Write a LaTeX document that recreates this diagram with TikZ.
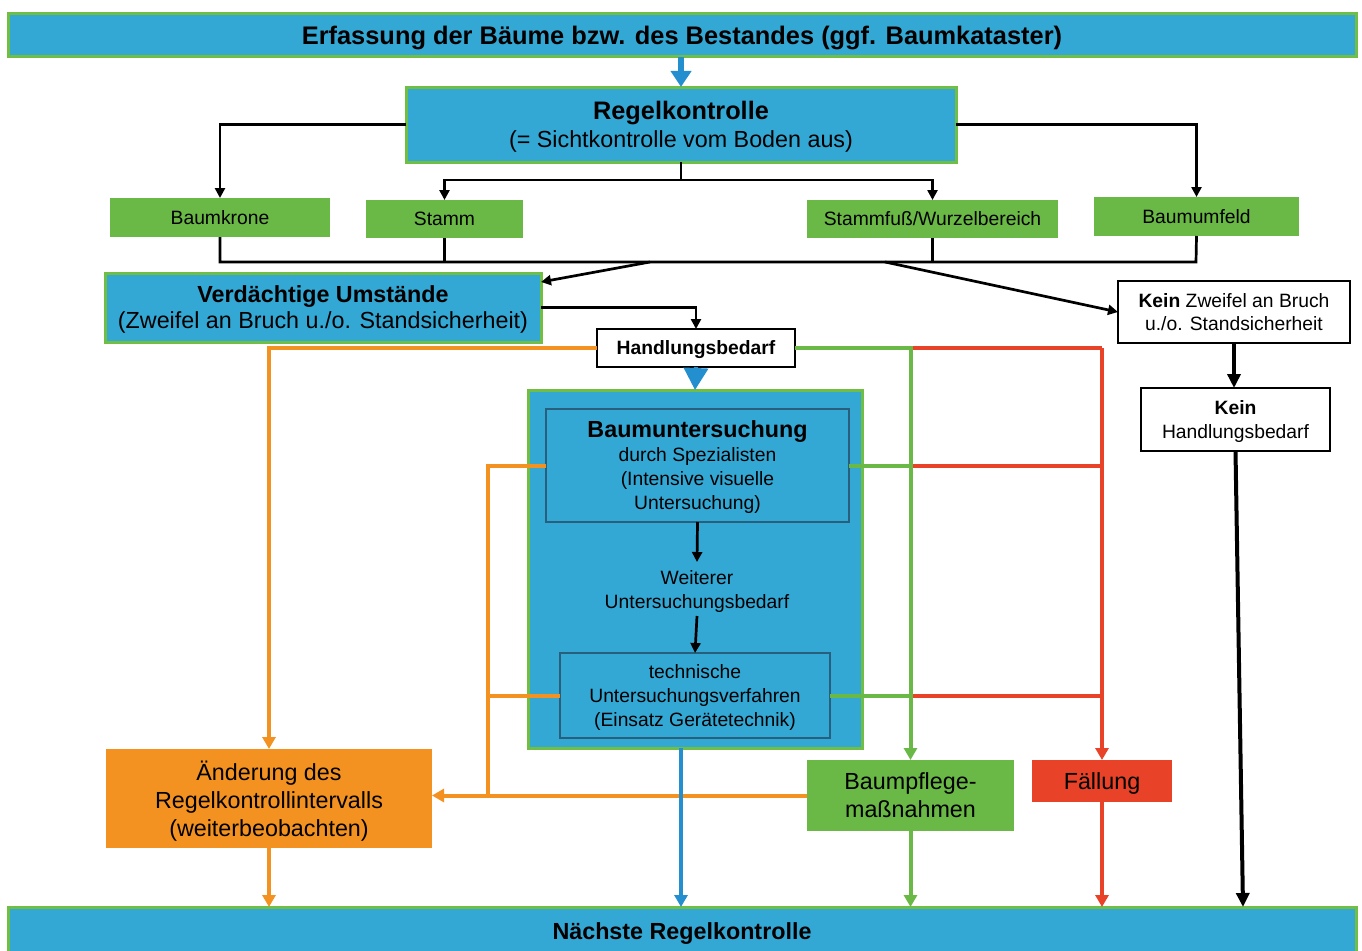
\documentclass[tikz,border=0pt]{standalone}
\usepackage{fontspec}
\setmainfont{Liberation Sans}
\usetikzlibrary{arrows.meta,calc}
\definecolor{boxblue}{RGB}{52,168,212}
\definecolor{edgegreen}{RGB}{112,190,68}
\definecolor{boxgreen}{RGB}{106,184,69}
\definecolor{lineblue}{RGB}{36,143,207}
\definecolor{boxorange}{RGB}{244,146,33}
\definecolor{boxred}{RGB}{232,67,40}
\definecolor{inneredge}{RGB}{40,95,125}
\newcommand{\fsbig}{\fontsize{23.3}{26}\selectfont}
\newcommand{\fsbigwide}{\fontsize{23.3}{28}\selectfont}
\newcommand{\fssmall}{\fontsize{19.3}{23.5}\selectfont}
\newcommand{\fssmallwide}{\fontsize{19.3}{24}\selectfont}
\tikzset{
  x=1pt, y=-1pt,
  base/.style={inner sep=0pt, outer sep=0pt, align=center, text=black, text depth=0pt},
  bluebox/.style={base, fill=boxblue, draw=edgegreen, line width=3pt},
  greenbox/.style={base, fill=boxgreen, font=\fssmall},
  whitebox/.style={base, fill=white, draw=black, line width=1.6pt, font=\fssmall},
  innerbox/.style={base, draw=inneredge, line width=1.1pt},
  conn/.style={line width=2.7pt, black},
  arr/.style={conn, -{Triangle[width=10pt,length=10pt]}},
  thickarr/.style={line width=4pt, black, -{Triangle[width=13pt,length=14pt]}},
  oline/.style={line width=4pt, boxorange},
  gline/.style={line width=4pt, boxgreen},
  rline/.style={line width=4pt, boxred},
  colarr/.style={-{Triangle[width=13pt,length=12pt]}},
  blueline/.style={line width=3.8pt, lineblue},
}
\begin{document}
\begin{tikzpicture}
\useasboundingbox (0,0) rectangle (1362,950);

% bars at top and bottom
\node[bluebox, minimum width=1348, minimum height=43, font=\fontsize{25.4}{28}\selectfont\bfseries]
  (top) at (682,35.5) {Erfassung der Bäume bzw. des Bestandes (ggf. Baumkataster)};
\node[bluebox, minimum width=1348, minimum height=48, font=\fsbig\bfseries]
  (bottom) at (682,931) {Nächste Regelkontrolle};

% regular inspection
\node[bluebox, minimum width=550, minimum height=75]
  (regel) at (681,124.5) {{\fontsize{25.3}{29}\selectfont\bfseries Regelkontrolle}\\[5pt]{\fsbig (= Sichtkontrolle vom Boden aus)}};

% parts of the tree
\node[greenbox, minimum width=220, minimum height=39] (krone) at (220,217.5) {Baumkrone};
\node[greenbox, minimum width=157, minimum height=38] (stamm) at (444.5,219) {Stamm};
\node[greenbox, minimum width=251, minimum height=38] (fuss) at (932.5,219) {Stammfuß/Wurzelbereich};
\node[greenbox, minimum width=205, minimum height=39] (umfeld) at (1196.5,216.5) {Baumumfeld};

% outcomes of the inspection
\node[bluebox, minimum width=436, minimum height=69, font=\fsbig]
  (verd) at (323,307.5) {\textbf{Verdächtige Umstände}\\(Zweifel an Bruch u./o. Standsicherheit)};
\node[whitebox, minimum width=198, minimum height=38, font=\fssmall\bfseries]
  (handl) at (696,348) {Handlungsbedarf};
\node[whitebox, minimum width=232, minimum height=62]
  (kein) at (1234,312) {\textbf{Kein} Zweifel an Bruch\\u./o. Standsicherheit};
\node[whitebox, minimum width=189, minimum height=63]
  (keinh) at (1235.5,419.5) {\textbf{Kein}\\Handlungsbedarf};

% detailed examination
\node[bluebox, minimum width=334, minimum height=358] (big) at (695,569) {};
\node[innerbox, minimum width=303, minimum height=113, font=\fssmallwide]
  (unt) at (697.5,465.5) {{\fontsize{23.3}{24}\selectfont\bfseries Baumuntersuchung}\\durch Spezialisten\\(Intensive visuelle\\Untersuchung)};
\node[base, font=\fssmallwide, inner ysep=8pt]
  (weiter) at (697,589) {Weiterer\\Untersuchungsbedarf};
\node[innerbox, minimum width=270, minimum height=85, font=\fssmallwide]
  (tech) at (695,695.5) {technische\\Untersuchungsverfahren\\(Einsatz Gerätetechnik)};

% measures
\node[base, fill=boxorange, minimum width=326, minimum height=99, font=\fsbigwide]
  (aend) at (269,798.5) {Änderung des\\Regelkontrollintervalls\\(weiterbeobachten)};
\node[base, fill=boxgreen, minimum width=207, minimum height=71, font=\fsbigwide]
  (pflege) at (910.5,795.5) {Baumpflege-\\maßnahmen};
\node[base, fill=boxred, minimum width=140, minimum height=42, font=\fsbig]
  (fall) at (1102,781) {Fällung};

% helper points
\coordinate (split) at (681,180);
\coordinate (busL) at (220,262);
\coordinate (busR) at (1196,262);
\coordinate (busA) at (650,262);
\coordinate (busB) at (885,262);
\coordinate (keinend) at (1243,907);

% top bar to regular inspection
\draw[line width=6pt, lineblue, -{Triangle[width=20pt,length=16pt]}] (regel.north |- top.south) -- (regel.north);

% regular inspection to the tree parts
\draw[arr] (regel.west) -| (krone.north);
\draw[arr] (regel.east) -| (umfeld.north);
\draw[conn] (regel.south) -- (split);
\draw[arr] (split) -| (stamm.north);
\draw[arr] (split) -| (fuss.north);

% collecting line below the tree parts
\draw[conn, line join=miter] (krone.south) -- (busL) -- (busR) -- (umfeld.south);
\draw[conn] (stamm.south) -- (stamm.south |- busL);
\draw[conn] (fuss.south) -- (fuss.south |- busL);
\draw[arr] (busA) -- ($(verd.north east)+(0,9)$);
\draw[arr] (busB) -- (kein.west);

% suspicious circumstances
\draw[arr] (verd.east) -| (handl.north);
\draw[line width=4pt, lineblue, -{Triangle[width=24pt,length=22pt]}] (handl.south) -- (big.north);

% no doubt branch
\draw[thickarr] (kein.south) -- (kein.south |- keinh.north);
\draw[thickarr] (keinh.south) -- (keinend);

% inside the examination box
\draw[arr] (unt.south) -- (weiter.north);
\draw[arr] (weiter.south) -- (tech.north);

% felling branch
\draw[rline] (pflege.north |- handl.east) -- (fall.north |- handl.east);
\draw[rline, colarr] (fall.north |- handl.east) -- (fall.north);
\draw[rline] (pflege.north |- unt.east) -- (fall.north |- unt.east);
\draw[rline] (pflege.north |- tech.east) -- (fall.north |- tech.east);
\draw[rline, colarr] (fall.south) -- (fall.south |- bottom.north);

% tree care branch
\draw[gline, colarr] (handl.east) -| (pflege.north);
\draw[gline] (unt.east) -- (pflege.north |- unt.east);
\draw[gline] (tech.east) -- (pflege.north |- tech.east);
\draw[gline, colarr] (pflege.south) -- (pflege.south |- bottom.north);

% observation branch
\draw[oline, colarr] (handl.west) -| (aend.north);
\draw[oline] (unt.west) -- (488,465.5) -- (488,795.5);
\draw[oline] (tech.west) -- (488,695.5);
\draw[oline, colarr] (pflege.west) -- (pflege.west -| aend.east);
\draw[oline, colarr] (aend.south) -- (aend.south |- bottom.north);

% examination result to next inspection
\draw[blueline, colarr] ($(big.south)+(-14,0)$) -- ($(big.south |- bottom.north)+(-14,0)$);
\end{tikzpicture}
\end{document}
